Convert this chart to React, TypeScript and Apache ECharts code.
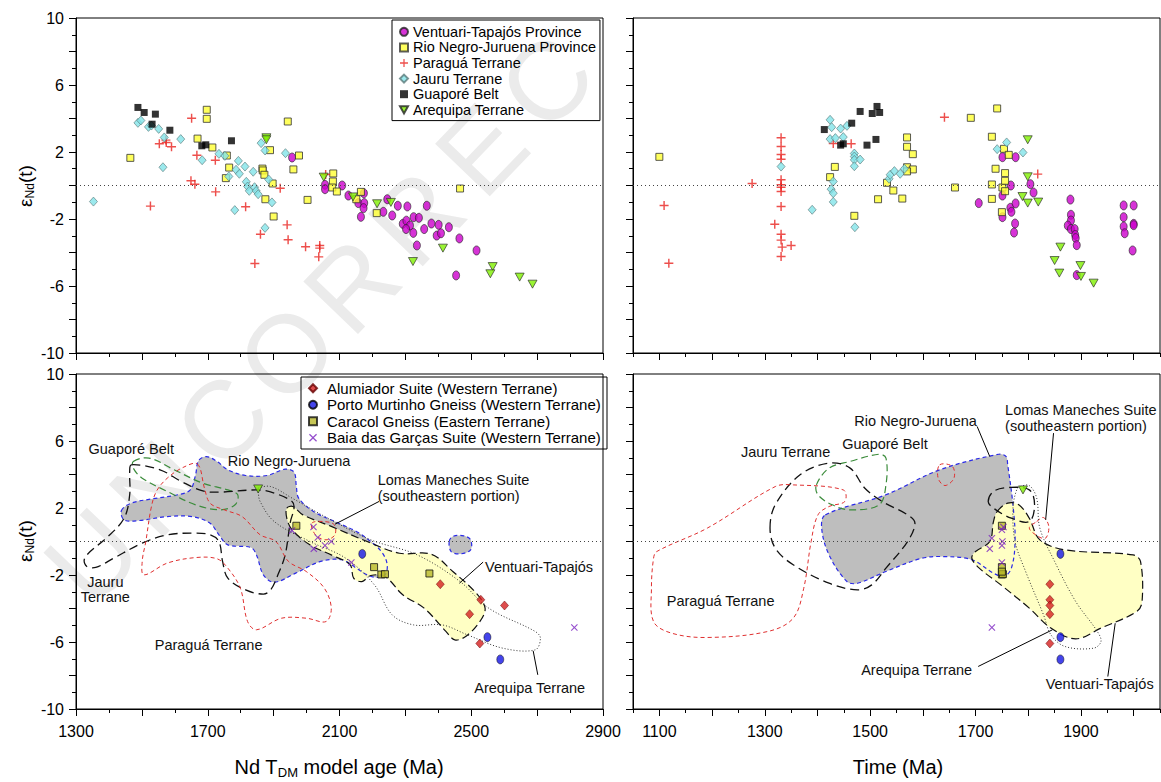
import React, { useEffect, useRef } from "react";
import * as echarts from "echarts";

const FONT = "'Liberation Sans', Arial, Helvetica, sans-serif";

// ---------- tick labels ----------
const yTickLabels = [10, 6, 2, -2, -6, -10];
const tdmTickLabels = [1300, 1700, 2100, 2500, 2900];
const timeTickLabels = [1100, 1300, 1500, 1700, 1900];

// ---------- legend names ----------
const topNames = [
  "Ventuari-Tapajós Province",
  "Rio Negro-Juruena Province",
  "Paraguá Terrane",
  "Jauru Terrane",
  "Guaporé Belt",
  "Arequipa Terrane",
];
const bottomNames = [
  "Alumiador Suite (Western Terrane)",
  "Porto Murtinho Gneiss (Western Terrane)",
  "Caracol Gneiss (Eastern Terrane)",
  "Baia das Garças Suite (Western Terrane)",
];

// watermark letters
const watermarkLetters = ["U", "N", "C", "O", "R", "R", "E", "C"];

// ---------- Top-left: εNd(t) vs Nd TDM (Ma) ----------
const ventuariTdm = [
  [1956, 1.67], [2056, 0.04], [2056, -0.22], [2108, 0.0], [2127, -0.6], [2157, -1.05], [2174, -0.46],
  [2175, -1.05], [2173, -1.35], [2165, -1.87], [2233, -1.57], [2245, -0.82], [2260, -1.79], [2277, -1.21],
  [2306, -1.25], [2292, -2.29], [2303, -2.1], [2314, -2.39], [2302, -2.6], [2324, -2.83], [2325, -1.89],
  [2341, -1.93], [2335, -3.58], [2357, -2.6], [2365, -1.21], [2379, -2.27], [2401, -2.35], [2395, -2.99],
  [2408, -2.85], [2432, -2.49], [2464, -3.16], [2454, -5.37], [2516, -3.88],
];
const rioNegroTdm = [
  [1465, 1.65], [1697, 4.52], [1697, 3.98], [1669, 2.8], [1714, 2.27], [1758, 1.79], [1765, 1.07],
  [1755, 0.44], [1866, 1.01], [1867, 0.9], [1872, 0.64], [1875, -0.82], [1889, 2.11], [1897, 0.12],
  [1900, -1.85], [1943, 3.82], [1960, 0.96], [1977, 1.79], [2003, -0.86], [2081, 0.72], [2080, 0.24],
  [2078, -0.12], [2092, -0.36], [2165, -0.38], [2151, -0.82], [2213, -1.65], [2466, -0.18],
];
const paraguaTdm = [
  [1526, -1.23], [1553, 2.49], [1573, 2.71], [1574, 2.57], [1590, 2.31], [1651, 4.02], [1649, 0.28],
  [1661, 0.08], [1667, 1.81], [1723, 1.51], [1724, -0.38], [1815, -1.27], [1843, -4.66], [1860, -2.91],
  [1920, -0.16], [1941, -2.35], [1944, -3.24], [1997, -3.66], [2040, -3.58], [2040, -3.74], [2037, -4.26],
  [2058, 0.66],
];
const jauruTdm = [
  [1353, -0.96], [1488, 3.74], [1497, 3.88], [1520, 3.5], [1529, 3.58], [1551, 3.38], [1568, 2.87],
  [1564, 1.09], [1618, 2.77], [1683, 1.51], [1734, 1.89], [1752, 1.77], [1764, 0.54], [1786, 0.94],
  [1793, 1.47], [1796, 0.7], [1813, 1.13], [1817, 0.22], [1821, -0.06], [1826, -0.32], [1838, 0.82],
  [1842, -0.1], [1847, -0.32], [1853, -0.52], [1782, -1.47], [1862, 2.53], [1874, 2.09], [1874, -2.53],
  [1885, 0.36], [1895, -1.01], [1936, 1.93],
];
const guaporeTdm = [
  [1488, 4.66], [1507, 4.36], [1541, 4.26], [1531, 3.66], [1585, 3.3], [1682, 2.37], [1694, 2.43], [1772, 2.67],
];
const arequipaTdm = [
  [1878, 2.85], [1878, 2.73], [2052, 0.5], [2141, -0.68], [2214, -1.09], [2256, -1.01], [2323, -4.54],
  [2414, -3.74], [2565, -4.84], [2558, -5.27], [2647, -5.47], [2686, -5.89],
];

// ---------- Top-right: εNd(t) vs Time (Ma) ----------
const ventuariTime = [
  [1706, -1.05], [1751, 1.69], [1776, 1.69], [1767, 0.0], [1751, -0.6], [1751, -1.89], [1766, -1.33],
  [1768, -1.57], [1776, -1.07], [1775, -2.27], [1773, -2.81], [1804, 0.08], [1810, -0.42], [1880, -0.84],
  [1881, -1.75], [1881, -2.09], [1875, -2.39], [1881, -2.6], [1888, -2.6], [1889, -2.95], [1890, -3.14],
  [1892, -3.56], [1892, -5.35], [1981, -1.19], [2000, -1.19], [1981, -1.89], [1981, -2.45], [1983, -2.85],
  [2000, -2.29], [2000, -2.37], [1998, -3.88],
];
const rioNegroTime = [
  [1100, 1.71], [1433, 1.11], [1424, 0.5], [1470, -1.81], [1515, -0.82], [1532, 0.16], [1544, -0.3],
  [1561, -0.78], [1570, 2.87], [1570, 2.31], [1581, 1.87], [1570, 1.09], [1581, 0.96], [1570, 0.84],
  [1661, -0.12], [1691, 4.04], [1731, 2.91], [1741, 4.6], [1738, 1.0], [1731, 0.06], [1731, -0.8],
  [1751, -0.12], [1754, 2.19], [1756, 0.74], [1756, 0.28], [1756, -0.34], [1763, 1.83], [1750, -1.59],
];
const paraguaTime = [
  [1109, -1.19], [1118, -4.64], [1276, 0.12], [1331, 2.85], [1331, 2.33], [1331, 1.85], [1331, 1.57],
  [1331, 0.34], [1331, 0.04], [1331, -0.1], [1331, -0.36], [1331, -1.25], [1319, -2.31], [1331, -2.91],
  [1331, -3.26], [1333, -3.68], [1350, -3.58], [1331, -4.24], [1430, 2.51], [1464, 2.49], [1641, 4.08],
  [1818, 0.68],
];
const jauruTime = [
  [1331, 1.13], [1390, -1.45], [1424, 3.92], [1427, 3.48], [1444, 3.4], [1456, 3.56], [1424, 2.77],
  [1434, 2.83], [1449, 2.89], [1430, 0.24], [1426, -0.22], [1430, -0.46], [1430, -0.98], [1470, 1.91],
  [1470, 1.73], [1470, 1.53], [1481, 1.55], [1470, 1.15], [1471, -2.49], [1536, 0.4], [1538, 0.64],
  [1546, 0.86], [1557, 0.7], [1565, 1.0], [1741, 2.17], [1759, 2.57], [1790, 1.97],
];
const guaporeTime = [
  [1413, 3.34], [1465, 3.72], [1481, 4.42], [1444, 2.41], [1449, 2.49], [1494, 2.41], [1504, 4.3],
  [1513, 4.72], [1518, 4.36], [1511, 2.75],
];
const arequipaTime = [
  [1799, 2.73], [1799, 0.52], [1789, -0.66], [1799, -1.05], [1819, -0.99], [1861, -3.68], [1850, -4.48],
  [1859, -5.23], [1899, -4.78], [1900, -5.43], [1924, -5.83],
];

// ---------- Bottom-left: samples vs Nd TDM ----------
const alumiadorTdm = [[2406, -2.55], [2529, -3.48], [2601, -3.82], [2495, -4.34], [2526, -6.09]];
const portoMurtinhoTdm = [[2169, -0.74], [2549, -5.71], [2588, -7.04]];
const caracolTdm = [[1969, 0.94], [2205, -1.53], [2227, -1.97], [2238, -1.95], [2373, -1.91]];
const baiaTdm = [[1956, 0.66], [2021, 0.86], [2034, 0.24], [2056, -0.24], [2075, 0.0], [2022, -0.44], [2136, -1.25], [2813, -5.13]];
const arequipaRefTdm = [[1853, 3.14]];

// ---------- Bottom-right: samples vs Time ----------
const alumiadorTime = [[1841, -2.55], [1841, -3.48], [1841, -3.82], [1841, -4.34], [1841, -6.09]];
const portoMurtinhoTime = [[1861, -0.74], [1861, -5.71], [1861, -7.04]];
const caracolTime = [[1750, 0.94], [1750, -1.53], [1750, -1.97], [1752, -1.95], [1750, -1.8]];
const baiaTime = [[1753, 0.86], [1750, 0.7], [1731, 0.2], [1751, 0.0], [1750, -0.24], [1727, -0.44], [1750, -1.25], [1731, -5.13]];
const arequipaRefTime = [[1790, 3.08]];

// ---------- Field outlines (TDM panel) ----------
const fRioNegroTdm = [
  [1438, 1.85], [1468, 2.29], [1533, 2.55], [1609, 2.79], [1647, 3.08], [1663, 3.98], [1672, 4.82], [1696, 5.07],
  [1728, 4.78], [1761, 4.28], [1815, 3.94], [1880, 3.94], [1935, 4.32], [1962, 4.14], [1969, 3.28], [1976, 2.59],
  [2021, 1.79], [2086, 1.19], [2151, 0.6], [2195, 0.0], [2227, -0.6], [2244, -1.29], [2240, -1.95], [2216, -2.15],
  [2184, -1.99], [2151, -1.59], [2108, -1.09], [2043, -1.19], [1967, -1.89], [1902, -2.43], [1869, -1.99],
  [1848, -0.8], [1831, -0.36], [1761, -0.2], [1734, 0.4], [1707, 1.09], [1652, 1.49], [1577, 1.49], [1490, 1.25],
  [1446, 1.29],
];
const fRioNegroBlobTdm = [[2433, 0.0], [2444, 0.3], [2477, 0.34], [2498, 0.1], [2498, -0.5], [2466, -0.74], [2439, -0.6]];
const fVentuariTdm = [
  [1940, 1.99], [1958, 2.09], [1989, 1.59], [2075, 0.9], [2184, 0.0], [2282, -0.7], [2379, -0.76], [2444, -1.79],
  [2515, -3.08], [2542, -3.98], [2526, -4.78], [2483, -5.67], [2450, -5.87], [2423, -5.37], [2357, -3.98],
  [2292, -3.18], [2238, -2.09], [2195, -2.03], [2168, -2.39], [2143, -2.19], [2132, -1.39], [2075, -0.8],
  [2010, -0.2], [1956, 0.7], [1940, 1.39],
];
const fGuaporeTdm = [
  [1474, 4.78], [1522, 4.98], [1598, 4.28], [1685, 3.48], [1761, 3.08], [1791, 2.79], [1783, 2.19], [1739, 1.89],
  [1663, 2.19], [1577, 2.99], [1501, 3.78], [1474, 4.38],
];
const fJauruTdm = [
  [1468, 4.58], [1555, 4.28], [1620, 3.58], [1685, 3.02], [1739, 2.95], [1853, 3.08], [1902, 2.89], [1956, 2.39],
  [1962, 1.99], [1951, 1.19], [1935, -0.8], [1913, -1.99], [1891, -2.89], [1869, -3.14], [1815, -2.89],
  [1761, -2.19], [1745, -1.19], [1734, 0.0], [1707, 0.4], [1663, 0.5], [1577, 0.4], [1501, -0.1], [1414, -1.0],
  [1360, -1.55], [1333, -1.49], [1325, -1.09], [1343, -0.6], [1392, 0.2], [1446, 1.39], [1463, 2.79], [1463, 4.18],
];
const fParaguaTdm = [
  [1669, 4.62], [1690, 3.18], [1707, 2.29], [1750, 1.89], [1804, 1.49], [1859, 0.4], [1907, 0.0], [1945, -1.19],
  [1999, -1.79], [2054, -2.79], [2075, -3.98], [2059, -4.78], [2000, -4.58], [1924, -4.58], [1848, -5.27],
  [1821, -4.78], [1799, -2.79], [1761, -1.59], [1728, -1.03], [1663, -0.96], [1577, -1.29], [1506, -1.99],
  [1501, -1.19], [1512, 0.0], [1528, 1.99], [1544, 2.99], [1577, 3.78], [1625, 4.42],
];
const fParaguaLoopTdm = [[2016, 1.09], [2054, 1.19], [2084, 1.0], [2086, 0.4], [2059, 0.1], [2027, 0.4]];
const fArequipaTdm = [
  [1853, 3.18], [1891, 3.28], [1956, 2.59], [2065, 1.39], [2195, 0.1], [2336, -0.8], [2466, -2.39], [2553, -3.98],
  [2694, -5.37], [2710, -5.77], [2694, -6.47], [2596, -6.37], [2488, -5.57], [2412, -4.98], [2325, -4.98],
  [2260, -4.38], [2206, -2.59], [2119, -1.0], [2010, 0.0], [1902, 1.19], [1859, 2.39], [1853, 2.99],
];

// ---------- Field outlines (Time panel) ----------
const fRioNegroTime = [
  [1415, 1.59], [1530, 2.79], [1632, 4.28], [1744, 5.21], [1758, 5.07], [1761, 4.58], [1771, 2.19], [1775, 0.0],
  [1768, -1.59], [1754, -2.09], [1734, -1.89], [1693, -1.09], [1639, -0.9], [1598, -1.0], [1530, -1.79],
  [1476, -2.49], [1456, -2.39], [1422, -0.8], [1408, 0.8],
];
const fVentuariTime = [
  [1741, 1.79], [1761, 2.29], [1782, 2.19], [1802, 1.39], [1822, 0.1], [1870, -0.5], [1999, -0.8], [2013, -1.19],
  [2016, -3.58], [2006, -4.18], [1938, -5.17], [1890, -5.81], [1843, -5.17], [1802, -3.98], [1748, -2.59],
  [1707, -1.59], [1693, -1.0], [1700, -0.6], [1727, 0.0], [1734, 1.19],
];
const fGuaporeTime = [
  [1398, 3.38], [1422, 4.38], [1462, 4.78], [1517, 5.21], [1530, 4.98], [1530, 3.38], [1517, 2.19], [1462, 1.89],
  [1428, 2.19], [1401, 2.79],
];
const fJauruTime = [
  [1310, 0.8], [1320, 2.19], [1367, 3.98], [1422, 4.68], [1462, 4.38], [1490, 3.18], [1523, 2.39], [1571, 1.59],
  [1585, 1.09], [1571, 0.0], [1530, -1.59], [1503, -2.59], [1476, -2.89], [1422, -2.49], [1354, -1.39], [1320, -0.4],
];
const fJauruLoopTime = [[1724, 2.39], [1734, 2.99], [1761, 3.22], [1802, 3.08], [1812, 2.19], [1802, 1.19], [1768, 1.39], [1734, 1.99]];
const fParaguaTime = [
  [1089, -1.0], [1095, -0.6], [1191, 0.8], [1320, 3.28], [1354, 3.38], [1449, 3.08], [1452, 2.39], [1422, 2.09],
  [1401, 1.59], [1388, 0.0], [1374, -2.79], [1354, -4.58], [1306, -5.37], [1191, -5.73], [1123, -5.47],
  [1089, -4.78], [1085, -2.79],
];
const fParaguaLoopATime = [[1632, 4.58], [1656, 4.48], [1659, 3.78], [1642, 3.34], [1629, 3.78]];
const fParaguaLoopBTime = [[1816, 1.19], [1829, 1.43], [1839, 0.9], [1833, 0.2], [1819, 0.3], [1802, 0.8]];
const fArequipaTime = [
  [1785, 3.28], [1802, 3.34], [1816, 2.59], [1822, 0.8], [1850, -1.19], [1890, -3.58], [1931, -5.37], [1938, -5.97],
  [1924, -6.37], [1870, -6.27], [1843, -5.57], [1829, -4.38], [1795, -1.79], [1775, 0.0], [1771, 1.99], [1778, 3.08],
];

// ---------- Annotations (data coordinates) ----------
const notesTdm: [number, number, string, string][] = [
  [1338, 5.51, "Guaporé Belt", "left"],
  [1761, 4.82, "Rio Negro-Juruena", "left"],
  [2216, 3.66, "Lomas Maneches Suite", "left"],
  [2216, 2.71, "(southeastern portion)", "left"],
  [2542, -1.51, "Ventuari-Tapajós", "left"],
  [1389, -2.39, "Jauru", "center"],
  [1389, -3.34, "Terrane", "center"],
  [1539, -6.17, "Paraguá Terrane", "left"],
  [2509, -8.72, "Arequipa Terrane", "left"],
];
const leadersTdm = [
  [2220, 2.39, 2086, 1.03],
  [2536, -1.23, 2464, -2.49],
  [2688, -6.53, 2702, -7.96],
];
const notesTime: [number, number, string, string][] = [
  [1470, 7.2, "Rio Negro-Juruena", "left"],
  [1756, 7.86, "Lomas Maneches Suite", "left"],
  [1756, 6.87, "(southeastern portion)", "left"],
  [1447, 5.83, "Guaporé Belt", "left"],
  [1255, 5.35, "Jauru Terrane", "left"],
  [1114, -3.54, "Paraguá Terrane", "left"],
  [1483, -7.66, "Arequipa Terrane", "left"],
  [1833, -8.52, "Ventuari-Tapajós", "left"],
];
const leadersTime = [
  [1703, 6.87, 1727, 5.07],
  [1848, 6.47, 1833, 1.29],
  [1705, -7.46, 1846, -5.27],
  [1951, -8.06, 1965, -4.88],
];

// ---------- styles ----------
const PLUS = "path://M4.2,0H5.8V4.2H10V5.8H5.8V10H4.2V5.8H0V4.2H4.2Z";
const CROSS = "path://M0,1.1L1.1,0L5,3.9L8.9,0L10,1.1L6.1,5L10,8.9L8.9,10L5,6.1L1.1,10L0,8.9L3.9,5Z";
const TRI_DOWN = "path://M0,0H10L5,9Z";

const ST: Record<string, any> = {
  vt: { symbol: "circle", symbolSize: [7, 9], itemStyle: { color: "#cc00cc", borderColor: "#222", borderWidth: 0.8 } },
  rnj: { symbol: "rect", symbolSize: 7, itemStyle: { color: "#ffff33", borderColor: "#333", borderWidth: 1 } },
  par: { symbol: PLUS, symbolSize: 9, itemStyle: { color: "#e8231f" } },
  jau: { symbol: "diamond", symbolSize: [8, 9], itemStyle: { color: "#82e4e8", borderColor: "#5a7a7a", borderWidth: 0.8 } },
  gua: { symbol: "rect", symbolSize: 7, itemStyle: { color: "#000" } },
  are: { symbol: TRI_DOWN, symbolSize: [9, 8], itemStyle: { color: "#80f000", borderColor: "#222", borderWidth: 0.8 } },
  alu: { symbol: "diamond", symbolSize: [8, 9], itemStyle: { color: "#d42020", borderColor: "#600", borderWidth: 0.6 } },
  pm: { symbol: "circle", symbolSize: [7, 9], itemStyle: { color: "#1515e6", borderColor: "#000", borderWidth: 0.6 } },
  car: { symbol: "rect", symbolSize: 7, itemStyle: { color: "#b8b82a", borderColor: "#111", borderWidth: 1 } },
  bai: { symbol: CROSS, symbolSize: 7, itemStyle: { color: "#7a22c0" } },
};

const FIELD_STYLE: Record<string, any> = {
  rio: { fill: "#bebebe", stroke: "#2a2ae8", lineWidth: 1.2, lineDash: [4, 3] },
  ven: { fill: "#ffffc4", stroke: "#111", lineWidth: 1.2, lineDash: [8, 4] },
  gua: { fill: null, stroke: "#3b8c3b", lineWidth: 1.2, lineDash: [7, 4] },
  jau: { fill: null, stroke: "#111", lineWidth: 1.3, lineDash: [9, 5] },
  par: { fill: null, stroke: "#e03030", lineWidth: 1, lineDash: [4, 3] },
  are: { fill: null, stroke: "#333", lineWidth: 1, lineDash: [1, 2] },
};

const fieldsTdm = [
  { pts: fRioNegroTdm, s: "rio" }, { pts: fRioNegroBlobTdm, s: "rio" }, { pts: fVentuariTdm, s: "ven" },
  { pts: fGuaporeTdm, s: "gua" }, { pts: fJauruTdm, s: "jau" }, { pts: fParaguaTdm, s: "par" },
  { pts: fParaguaLoopTdm, s: "par" }, { pts: fArequipaTdm, s: "are" },
];
const fieldsTime = [
  { pts: fRioNegroTime, s: "rio" }, { pts: fVentuariTime, s: "ven" }, { pts: fGuaporeTime, s: "gua" },
  { pts: fJauruTime, s: "jau" }, { pts: fJauruLoopTime, s: "jau" }, { pts: fParaguaTime, s: "par" },
  { pts: fParaguaLoopATime, s: "par" }, { pts: fParaguaLoopBTime, s: "par" }, { pts: fArequipaTime, s: "are" },
];

function fieldSeries(xi: number, yi: number, fields: any[], mode: "fill" | "stroke") {
  const list = mode === "fill" ? fields.filter((f) => FIELD_STYLE[f.s].fill) : fields;
  return {
    type: "custom",
    xAxisIndex: xi,
    yAxisIndex: yi,
    silent: true,
    z: mode === "fill" ? 1 : 2,
    clip: true,
    data: list.map((f) => [f.pts[0][0], f.pts[0][1]]),
    renderItem: (params: any, api: any) => {
      const f = list[params.dataIndex];
      const st = FIELD_STYLE[f.s];
      const points = f.pts.map((p: number[]) => api.coord(p));
      return {
        type: "polygon",
        shape: { points, smooth: 0.35 },
        style:
          mode === "fill"
            ? { fill: st.fill, stroke: null }
            : { fill: null, stroke: st.stroke, lineWidth: st.lineWidth, lineDash: st.lineDash },
      };
    },
  };
}

function noteSeries(xi: number, yi: number, notes: any[]) {
  return {
    type: "custom",
    xAxisIndex: xi,
    yAxisIndex: yi,
    silent: true,
    z: 6,
    clip: false,
    data: notes.map((n) => [n[0], n[1]]),
    renderItem: (params: any, api: any) => {
      const n = notes[params.dataIndex];
      const p = api.coord([n[0], n[1]]);
      return {
        type: "text",
        x: p[0],
        y: p[1],
        style: { text: n[2], fill: "#111", fontSize: 14.5, fontFamily: FONT, align: n[3], verticalAlign: "middle" },
      };
    },
  };
}

function leaderSeries(xi: number, yi: number, leaders: number[][]) {
  return {
    type: "custom",
    xAxisIndex: xi,
    yAxisIndex: yi,
    silent: true,
    z: 6,
    clip: false,
    data: leaders.map((l) => [l[0], l[1]]),
    renderItem: (params: any, api: any) => {
      const l = leaders[params.dataIndex];
      const a = api.coord([l[0], l[1]]);
      const b = api.coord([l[2], l[3]]);
      return { type: "line", shape: { x1: a[0], y1: a[1], x2: b[0], y2: b[1] }, style: { stroke: "#000", lineWidth: 1 } };
    },
  };
}

const zeroLine = {
  silent: true,
  symbol: ["none", "none"],
  label: { show: false },
  lineStyle: { color: "#444", type: [1, 3], width: 1 },
  data: [{ yAxis: 0 }],
};

function sc(name: string, data: number[][], xi: number, yi: number, key: string, extra: any = {}) {
  return { type: "scatter", name, data, xAxisIndex: xi, yAxisIndex: yi, z: 4, ...ST[key], ...extra };
}

const tickLine = { color: "#000", width: 1 };

function yAxis(gridIndex: number, labels: boolean) {
  return {
    type: "value",
    gridIndex,
    min: -10,
    max: 10,
    interval: 2,
    axisLine: { show: true, onZero: false, lineStyle: tickLine },
    axisTick: { show: true, inside: false, length: 7, lineStyle: tickLine },
    minorTick: { show: true, splitNumber: 2, length: 4, lineStyle: tickLine },
    splitLine: { show: false },
    minorSplitLine: { show: false },
    axisLabel: {
      show: labels,
      margin: 12,
      fontSize: 16,
      fontFamily: FONT,
      color: "#000",
      formatter: (v: number) => (yTickLabels.includes(v) ? String(v) : ""),
    },
  };
}

function xTdm(gridIndex: number, labels: boolean) {
  return {
    type: "value",
    gridIndex,
    position: "bottom",
    min: 1300,
    max: 2900,
    interval: 200,
    axisLine: { show: true, onZero: false, lineStyle: tickLine },
    axisTick: { show: true, inside: false, length: 7, lineStyle: tickLine },
    minorTick: { show: true, splitNumber: 2, length: 4, lineStyle: tickLine },
    splitLine: { show: false },
    minorSplitLine: { show: false },
    axisLabel: {
      show: labels,
      margin: 14,
      fontSize: 16,
      fontFamily: FONT,
      color: "#000",
      formatter: (v: number) => (tdmTickLabels.includes(v) ? String(v) : ""),
    },
  };
}

function xTimeTicks(gridIndex: number) {
  return {
    type: "value",
    gridIndex,
    position: "bottom",
    min: 1050,
    max: 2050,
    interval: 100,
    axisLine: { show: true, onZero: false, lineStyle: tickLine },
    axisTick: { show: true, inside: false, length: 4, lineStyle: tickLine },
    minorTick: { show: true, splitNumber: 2, length: 7, lineStyle: tickLine },
    splitLine: { show: false },
    minorSplitLine: { show: false },
    axisLabel: { show: false },
  };
}

function xTimeLabels(gridIndex: number) {
  return {
    type: "value",
    gridIndex,
    position: "bottom",
    min: 1050,
    max: 2050,
    interval: 50,
    axisLine: { show: false, onZero: false },
    axisTick: { show: false },
    splitLine: { show: false },
    axisLabel: {
      show: true,
      margin: 14,
      fontSize: 16,
      fontFamily: FONT,
      color: "#000",
      formatter: (v: number) => (timeTickLabels.includes(v) ? String(v) : ""),
    },
  };
}

const gridBase = { show: true, borderColor: "#000", borderWidth: 1, backgroundColor: "transparent", containLabel: false, outerBoundsMode: "none" };

// watermark path: from the "U" to the last "C" (pixels)
const WM_START = [92, 556];
const WM_END = [546, 82];

export default function App() {
  const ref = useRef<HTMLDivElement>(null);
  useEffect(() => {
    if (!ref.current) return;
    const chart = echarts.init(ref.current, null, { renderer: "svg" });
    const n = watermarkLetters.length - 1;
    const wmRot = Math.atan2(WM_START[1] - WM_END[1], WM_END[0] - WM_START[0]);
    const watermark = watermarkLetters.map((ch, i) => ({
      type: "text",
      z: -10,
      silent: true,
      x: WM_START[0] + ((WM_END[0] - WM_START[0]) * i) / n,
      y: WM_START[1] + ((WM_END[1] - WM_START[1]) * i) / n,
      rotation: wmRot,
      style: { text: ch, fontSize: 110, fontFamily: FONT, fill: "#ebebeb", align: "center", verticalAlign: "middle" },
    }));
    const option: any = {
      animation: false,
      backgroundColor: "#fff",
      textStyle: { fontFamily: FONT },
      grid: [
        { ...gridBase, left: 76, top: 18, width: 527, height: 335 },
        { ...gridBase, left: 633, top: 18, width: 527, height: 335 },
        { ...gridBase, left: 76, top: 374, width: 527, height: 335 },
        { ...gridBase, left: 633, top: 374, width: 527, height: 335 },
      ],
      xAxis: [xTdm(0, false), xTimeTicks(1), xTdm(2, true), xTimeTicks(3), xTimeLabels(3)],
      yAxis: [yAxis(0, true), yAxis(1, false), yAxis(2, true), yAxis(3, false)],
      legend: [
        {
          data: topNames,
          orient: "vertical",
          left: 392,
          top: 20,
          padding: [4, 4, 3, 7],
          itemGap: 0,
          itemWidth: 8,
          itemHeight: 8,
          borderColor: "#000",
          borderWidth: 1,
          selectedMode: false,
          textStyle: { fontFamily: FONT, fontSize: 14.5, color: "#000", lineHeight: 15.6 },
        },
        {
          data: bottomNames,
          orient: "vertical",
          left: 301,
          top: 377,
          padding: [3, 6, 3, 7],
          itemGap: 0,
          itemWidth: 8,
          itemHeight: 8,
          borderColor: "#000",
          borderWidth: 1,
          selectedMode: false,
          textStyle: { fontFamily: FONT, fontSize: 15, color: "#000", lineHeight: 16.5, padding: [0, 0, 0, 5] },
        },
      ],
      graphic: [
        ...watermark,
        {
          type: "text",
          x: 339,
          y: 767,
          style: {
            text: "Nd T{s|DM} model age (Ma)",
            fontSize: 20,
            fontFamily: FONT,
            fill: "#000",
            align: "center",
            verticalAlign: "middle",
            rich: { s: { fontSize: 13, fontFamily: FONT, fill: "#000", padding: [10, 0, 0, 0] } },
          },
        },
        {
          type: "text",
          x: 898,
          y: 767,
          style: { text: "Time (Ma)", fontSize: 20, fontFamily: FONT, fill: "#000", align: "center", verticalAlign: "middle" },
        },
        ...[186, 541].map((cy) => ({
          type: "text",
          x: 25,
          y: cy,
          rotation: Math.PI / 2,
          style: {
            text: "ε{s|Nd}(t)",
            fontSize: 19,
            fontFamily: FONT,
            fill: "#000",
            align: "center",
            verticalAlign: "middle",
            rich: { s: { fontSize: 12, fontFamily: FONT, fill: "#000", padding: [9, 0, 0, 0] } },
          },
        })),
      ],
      series: [
        // top-left
        sc(topNames[0], ventuariTdm, 0, 0, "vt", { markLine: zeroLine }),
        sc(topNames[1], rioNegroTdm, 0, 0, "rnj"),
        sc(topNames[2], paraguaTdm, 0, 0, "par"),
        sc(topNames[3], jauruTdm, 0, 0, "jau"),
        sc(topNames[4], guaporeTdm, 0, 0, "gua"),
        sc(topNames[5], arequipaTdm, 0, 0, "are"),
        // top-right
        sc(topNames[0], ventuariTime, 1, 1, "vt", { markLine: zeroLine }),
        sc(topNames[1], rioNegroTime, 1, 1, "rnj"),
        sc(topNames[2], paraguaTime, 1, 1, "par"),
        sc(topNames[3], jauruTime, 1, 1, "jau"),
        sc(topNames[4], guaporeTime, 1, 1, "gua"),
        sc(topNames[5], arequipaTime, 1, 1, "are"),
        // bottom-left
        fieldSeries(2, 2, fieldsTdm, "fill"),
        fieldSeries(2, 2, fieldsTdm, "stroke"),
        sc(bottomNames[0], alumiadorTdm, 2, 2, "alu", { markLine: zeroLine }),
        sc(bottomNames[1], portoMurtinhoTdm, 2, 2, "pm"),
        sc(bottomNames[2], caracolTdm, 2, 2, "car"),
        sc(bottomNames[3], baiaTdm, 2, 2, "bai"),
        sc("Arequipa reference", arequipaRefTdm, 2, 2, "are"),
        noteSeries(2, 2, notesTdm),
        leaderSeries(2, 2, leadersTdm),
        // bottom-right
        fieldSeries(3, 3, fieldsTime, "fill"),
        fieldSeries(3, 3, fieldsTime, "stroke"),
        sc(bottomNames[0], alumiadorTime, 3, 3, "alu", { markLine: zeroLine }),
        sc(bottomNames[1], portoMurtinhoTime, 3, 3, "pm"),
        sc(bottomNames[2], caracolTime, 3, 3, "car"),
        sc(bottomNames[3], baiaTime, 3, 3, "bai"),
        sc("Arequipa reference ", arequipaRefTime, 3, 3, "are"),
        noteSeries(3, 3, notesTime),
        leaderSeries(3, 3, leadersTime),
      ],
    };
    chart.setOption(option);
    return () => chart.dispose();
  }, []);
  return <div ref={ref} style={{ position: "fixed", left: 0, top: 0, width: 1161, height: 782 }} />;
}
